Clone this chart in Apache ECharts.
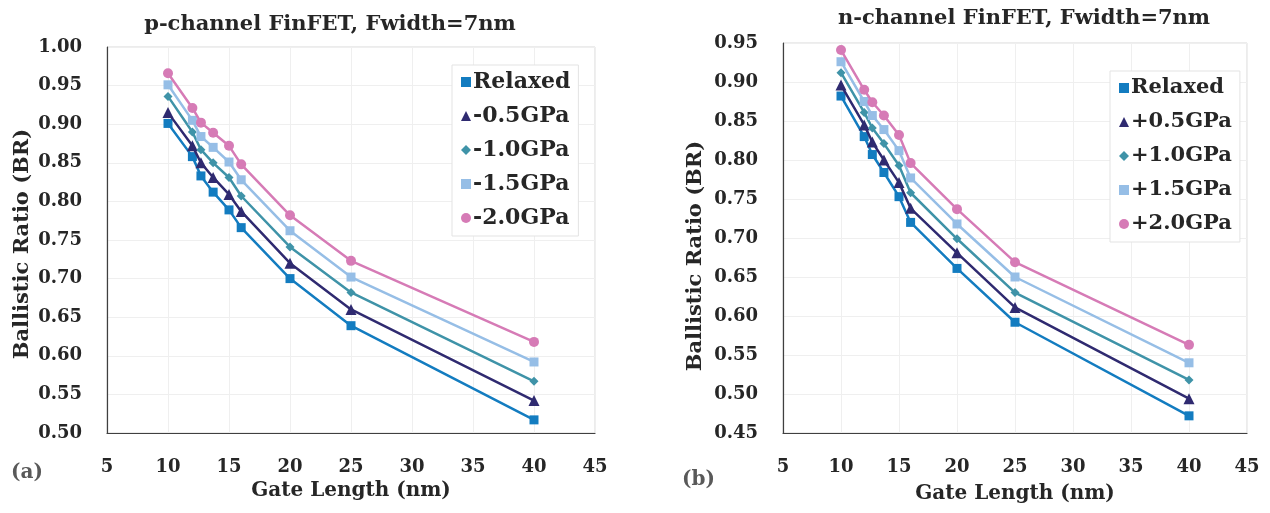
<!DOCTYPE html>
<html>
<head>
<meta charset="utf-8">
<script src="https://cdn.jsdelivr.net/npm/echarts@6/dist/echarts.min.js"></script>
<style>
html,body{margin:0;padding:0;background:#fff;}
#chart{width:1270px;height:513px;}
</style>
</head>
<body>
<div id="chart"></div>
<script>
// Gate lengths (nm)
var gateLength = [10, 12, 12.7, 13.7, 15, 16, 20, 25, 40];

// p-channel FinFET (a)
var pNames = ['Relaxed', '-0.5GPa', '-1.0GPa', '-1.5GPa', '-2.0GPa'];
var pRelaxed = [0.901, 0.858, 0.833, 0.812, 0.789, 0.766, 0.700, 0.639, 0.517];
var pM05 = [0.915, 0.872, 0.850, 0.831, 0.809, 0.787, 0.720, 0.660, 0.542];
var pM10 = [0.936, 0.890, 0.867, 0.850, 0.831, 0.807, 0.741, 0.682, 0.567];
var pM15 = [0.951, 0.905, 0.884, 0.870, 0.851, 0.828, 0.762, 0.702, 0.592];
var pM20 = [0.966, 0.921, 0.902, 0.889, 0.872, 0.848, 0.782, 0.723, 0.618];

// n-channel FinFET (b)
var nNames = ['Relaxed', '+0.5GPa', '+1.0GPa', '+1.5GPa', '+2.0GPa'];
var nRelaxed = [0.882, 0.830, 0.807, 0.784, 0.753, 0.720, 0.661, 0.592, 0.472];
var nP05 = [0.896, 0.845, 0.823, 0.800, 0.771, 0.738, 0.681, 0.611, 0.494];
var nP10 = [0.912, 0.861, 0.841, 0.821, 0.793, 0.758, 0.699, 0.630, 0.518];
var nP15 = [0.926, 0.875, 0.857, 0.839, 0.812, 0.777, 0.718, 0.650, 0.540];
var nP20 = [0.941, 0.890, 0.874, 0.857, 0.832, 0.796, 0.737, 0.669, 0.563];

var titles = ['p-channel FinFET, Fwidth=7nm', 'n-channel FinFET, Fwidth=7nm'];
var xName = 'Gate Length (nm)';
var yName = 'Ballistic Ratio (BR)';

var colors = ['#137cc0', '#2f2a70', '#3f93a8', '#96bee6', '#d67bb6'];
var symbols = ['rect', 'triangle', 'diamond', 'rect', 'circle'];
var symbolSizes = [9, 11, 9, 9, 10];

var FONT = 'DejaVu Serif';
var TXT = '#262626';

function pairs(ys) {
  return gateLength.map(function (x, i) { return [x, ys[i]]; });
}

function makeSeries(names, sets, idx) {
  return sets.map(function (ys, k) {
    return {
      name: names[k],
      type: 'line',
      xAxisIndex: idx,
      yAxisIndex: idx,
      data: pairs(ys),
      symbol: symbols[k],
      symbolSize: symbolSizes[k],
      color: colors[k],
      lineStyle: { width: 2.5, color: colors[k] },
      itemStyle: { color: colors[k] },
      z: 2 + k
    };
  });
}

function xAxisOpt(idx, gap) {
  return {
    gridIndex: idx, type: 'value', min: 5, max: 45, interval: 5,
    name: xName, nameLocation: 'middle', nameGap: gap,
    nameTextStyle: { fontFamily: FONT, fontWeight: 'bold', fontSize: 20, color: TXT },
    axisLine: { show: true, lineStyle: { color: '#404040', width: 1.2 } },
    axisTick: { show: false },
    axisLabel: { margin: 25, fontFamily: FONT, fontWeight: 'bold', fontSize: 18, color: TXT },
    splitLine: { show: true, lineStyle: { color: '#efefef', width: 1 } }
  };
}

function yAxisOpt(idx, min, max, gap, pad) {
  return {
    gridIndex: idx, type: 'value', min: min, max: max, interval: 0.05,
    name: yName, nameLocation: 'middle', nameGap: gap,
    nameTextStyle: { fontFamily: FONT, fontWeight: 'bold', fontSize: 21, color: TXT, padding: pad },
    axisLine: { show: true, lineStyle: { color: '#404040', width: 1.2 } },
    axisTick: { show: false },
    axisLabel: {
      margin: 25, fontFamily: FONT, fontWeight: 'bold', fontSize: 18, color: TXT,
      formatter: function (v) { return v.toFixed(2); }
    },
    splitLine: { show: true, lineStyle: { color: '#efefef', width: 1 } }
  };
}

function legendOpt(names, left, top, fs) {
  return {
    orient: 'vertical', left: left, top: top,
    data: names.map(function (n, k) { return { name: n, icon: k === 4 ? 'circle' : (k === 1 ? 'triangle' : (k === 2 ? 'diamond' : 'rect')) }; }),
    itemWidth: 10, itemHeight: 10, itemGap: 10,
    padding: [5, 8, 6, 9],
    backgroundColor: '#ffffff', borderColor: '#e3e3e3', borderWidth: 1,
    textStyle: { fontFamily: FONT, fontWeight: 'bold', fontSize: fs, color: TXT, lineHeight: 24, padding: [0, 0, 0, -3] }
  };
}

var chart = echarts.init(document.getElementById('chart'), null, { renderer: 'canvas' });
chart.setOption({
  backgroundColor: '#ffffff',
  animation: false,
  title: [
    { text: titles[0], left: 325, top: 9, textAlign: 'center',
      textStyle: { fontFamily: FONT, fontWeight: 'bold', fontSize: 21, color: TXT } },
    { text: titles[1], left: 1019, top: 3, textAlign: 'center',
      textStyle: { fontFamily: FONT, fontWeight: 'bold', fontSize: 21, color: TXT } }
  ],
  grid: [
    { left: 107, top: 47, right: 675, bottom: 80, show: true, borderColor: '#d9d9d9', borderWidth: 1 },
    { left: 783, top: 43, right: 23, bottom: 80, show: true, borderColor: '#d9d9d9', borderWidth: 1 }
  ],
  xAxis: [xAxisOpt(0, 45), xAxisOpt(1, 51)],
  yAxis: [yAxisOpt(0, 0.5, 1.0, 74, [0, 8, 0, 0]), yAxisOpt(1, 0.45, 0.95, 77, [0, 36, 0, 0])],
  legend: [legendOpt(pNames, 452, 65, 22), legendOpt(nNames, 1110, 71, 21)],
  series: makeSeries(pNames, [pRelaxed, pM05, pM10, pM15, pM20], 0)
    .concat(makeSeries(nNames, [nRelaxed, nP05, nP10, nP15, nP20], 1)),
  graphic: [
    { type: 'text', left: 11, top: 463, style: { text: '(a)', fontFamily: FONT, fontWeight: 'bold', fontSize: 20, fill: '#595959' } },
    { type: 'text', left: 682, top: 470, style: { text: '(b)', fontFamily: FONT, fontWeight: 'bold', fontSize: 20, fill: '#595959' } }
  ]
});
</script>
</body>
</html>
